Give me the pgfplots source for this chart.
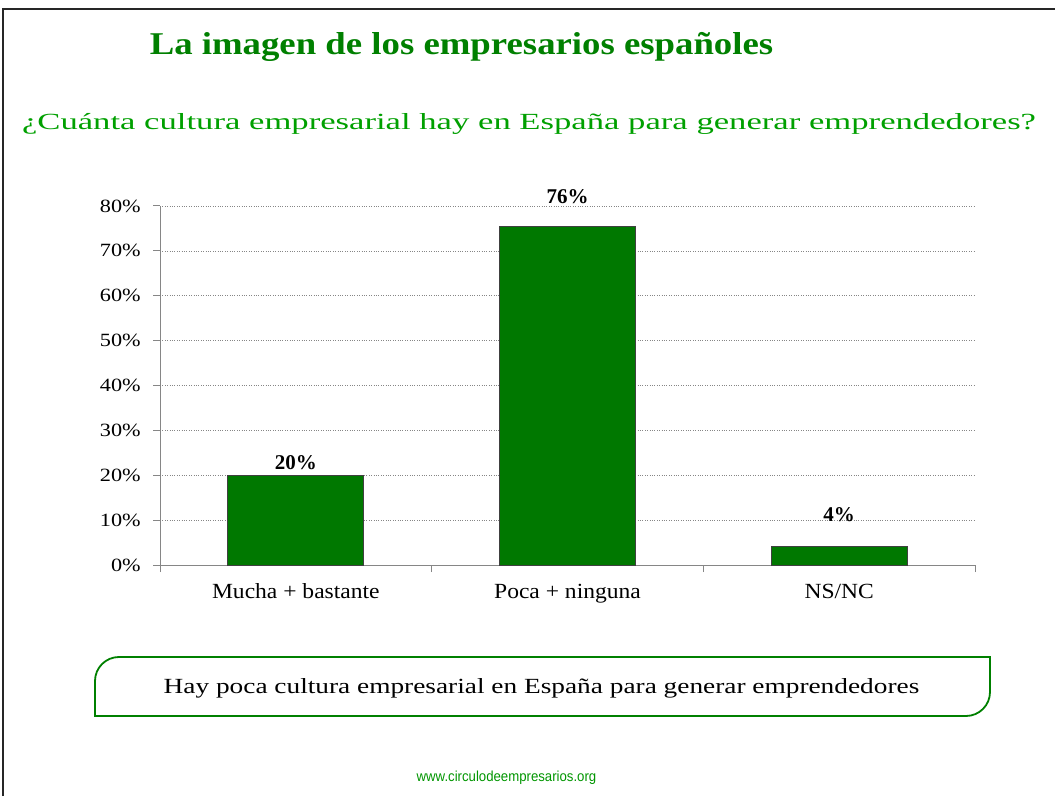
\documentclass[border=0pt]{standalone}
\usepackage{fontspec}
\setmainfont{Liberation Serif}
\setsansfont{Liberation Sans}
\newfontfamily\titlefont[FakeStretch=1.16]{Liberation Serif}
\newfontfamily\subfont[FakeStretch=1.50]{Liberation Serif}
\newfontfamily\tickfont[FakeStretch=1.19]{Liberation Serif}
\newfontfamily\catfont[FakeStretch=1.09]{Liberation Serif}
\newfontfamily\boxfont[FakeStretch=1.265]{Liberation Serif}
\newfontfamily\urlfont[FakeStretch=0.91]{Liberation Sans}
\usepackage{pgfplots}
\pgfplotsset{compat=1.18}
\definecolor{bargreen}{RGB}{0,120,0}
\definecolor{titlegreen}{RGB}{0,128,0}
\definecolor{subgreen}{RGB}{0,160,0}
\definecolor{urlgreen}{RGB}{0,150,0}
\definecolor{axgray}{RGB}{134,134,134}
\begin{document}
\begin{tikzpicture}
\useasboundingbox (0pt,0pt) rectangle (1055pt,796pt);
\fill[white] (0pt,0pt) rectangle (1055pt,796pt);
\draw[black!85,line width=2pt] (3pt,0pt) -- (3pt,786.5pt) -- (1055pt,786.5pt);
\node[text=titlegreen,font=\titlefont\bfseries\fontsize{31.7}{36}\selectfont,anchor=base,inner sep=0pt] at (461.5pt,741.7pt) {La imagen de los empresarios españoles};
\node[text=subgreen,font=\subfont\fontsize{23.1}{27}\selectfont,anchor=base,inner sep=0pt] at (529pt,666.7pt) {¿Cuánta cultura empresarial hay en España para generar emprendedores?};
\begin{axis}[
  at={(160pt,231pt)}, anchor=south west,
  scale only axis, width=815pt, height=359pt,
  xmin=-0.5, xmax=2.5, ymin=0, ymax=80,
  axis x line*=bottom, axis y line*=left,
  axis line style={axgray, line width=1pt},
  ytick={0,10,...,80},
  yticklabel={\pgfmathprintnumber{\tick}\%},
  /pgf/number format/assume math mode=true,
  ymajorgrids, grid style={axgray, dotted, line width=0.6pt},
  ytick style={axgray, line width=1pt},
  tick align=outside, major tick length=7pt,
  xtick={-0.5,0.5,1.5,2.5}, xticklabels={},
  xtick style={axgray, line width=1pt},
  extra x ticks={0,1,2},
  extra x tick labels={Mucha + bastante, Poca + ninguna, NS/NC},
  extra x tick style={major tick length=0pt, grid=none},
  yticklabel style={font=\tickfont\fontsize{18.7}{22}\selectfont, text=black, xshift=-8.7pt},
  xticklabel style={font=\catfont\fontsize{21.6}{25}\selectfont, text=black, text height=14.75pt, text depth=5pt, yshift=-14.9pt},
  clip=false,
  every node near coord/.append style={font=\bfseries\fontsize{21}{24}\selectfont, text=black, anchor=base, inner sep=0pt},
]
\addplot[ybar, bar width=136pt, fill=bargreen, draw=black!75, line width=0.7pt,
  nodes near coords={20\%}, every node near coord/.append style={yshift=5.9pt}]
  coordinates {(0,20)};
\addplot[ybar, bar width=136pt, fill=bargreen, draw=black!75, line width=0.7pt,
  nodes near coords={76\%}, every node near coord/.append style={yshift=22.3pt}]
  coordinates {(1,75.5)};
\addplot[ybar, bar width=136pt, fill=bargreen, draw=black!75, line width=0.7pt,
  nodes near coords={4\%}, every node near coord/.append style={yshift=24.4pt}]
  coordinates {(2,4.25)};
\end{axis}
\draw[titlegreen, line width=1.8pt] (95pt,80pt) [rounded corners=24pt] -- (95pt,139pt) [sharp corners] -- (990pt,139pt) [rounded corners=24pt] -- (990pt,80pt) [sharp corners] -- cycle;
\node[font=\boxfont\fontsize{21.6}{25}\selectfont,anchor=base,inner sep=0pt] at (541.5pt,102.7pt) {Hay poca cultura empresarial en España para generar emprendedores};
\node[text=urlgreen,font=\urlfont\fontsize{14.5}{17}\selectfont,anchor=base,inner sep=0pt] at (506.5pt,14.3pt) {www.circulodeempresarios.org};
\end{tikzpicture}
\end{document}
